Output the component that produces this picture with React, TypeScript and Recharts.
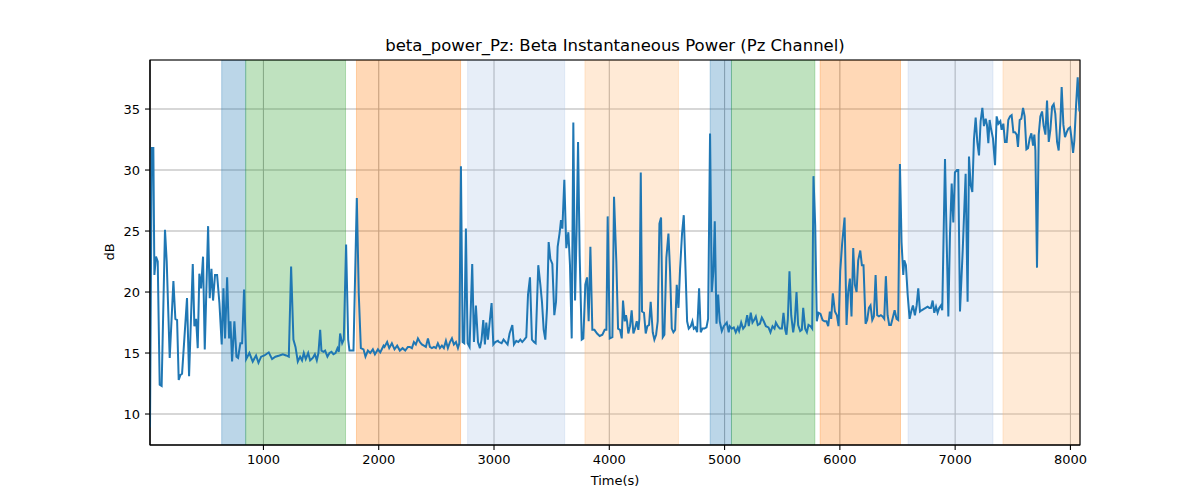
import React from "react"
import {
  LineChart,
  Line,
  XAxis,
  YAxis,
  CartesianGrid,
  ReferenceArea,
} from "recharts"

// Time axis (seconds) and beta power (dB)
const times = [
  16, 31, 45, 54, 68, 83, 100, 117, 146, 161, 187, 219, 236, 251, 265, 280, 294, 337, 355, 387,
  401, 416, 430, 444, 459, 476, 491, 520, 534, 549, 563, 580, 598, 618, 638, 653, 667, 685, 702, 714,
  728, 748, 766, 780, 800, 815, 832, 850, 878, 907, 936, 957, 980, 1009, 1038,
  1046, 1075, 1104, 1139, 1168, 1197, 1220, 1240, 1260, 1278, 1298, 1318, 1335, 1350, 1367, 1388, 1405,
  1428, 1446, 1463, 1477, 1492, 1503, 1521, 1535, 1555, 1573, 1590, 1607, 1625, 1642, 1654, 1665, 1683,
  1697, 1717, 1735, 1746, 1781, 1810, 1827, 1845, 1868, 1885, 1906, 1926, 1949, 1967, 1993, 2013, 2042,
  2050, 2073, 2091, 2114, 2137, 2160, 2183, 2207, 2230, 2253, 2270, 2288, 2305, 2322, 2340, 2357, 2374,
  2392, 2409, 2427, 2444, 2461, 2479, 2496, 2513, 2531, 2548, 2565, 2583, 2600, 2618, 2635, 2652, 2670,
  2687, 2699, 2713, 2728, 2742, 2756, 2771, 2788, 2811, 2826, 2843, 2861, 2878, 2892, 2907, 2921, 2933,
  2947, 2962, 2979, 2994, 3011, 3034,
  3043, 3066, 3083, 3101, 3118, 3135, 3159, 3173, 3193, 3211, 3228, 3245, 3263, 3280, 3295, 3312, 3329,
  3347, 3361, 3384, 3402, 3416, 3431, 3445, 3460, 3474, 3489, 3506, 3523, 3538, 3552, 3570, 3581, 3593,
  3610, 3627, 3645, 3659, 3674, 3688, 3703, 3717, 3729, 3743, 3761, 3775, 3792, 3807, 3821, 3836, 3853,
  3871, 3894, 3917, 3940, 3960, 3975, 3986, 4004, 4027, 4041,
  4061, 4076, 4093, 4108, 4119, 4134, 4145, 4154, 4165, 4180, 4194, 4209, 4223, 4238, 4252, 4261, 4273,
  4284, 4301, 4316, 4330, 4345, 4359, 4377, 4391, 4406, 4420, 4435, 4449, 4464, 4478, 4495, 4513, 4527,
  4542, 4556, 4571, 4585, 4600, 4614, 4631, 4646, 4660, 4675, 4689, 4707, 4721, 4733, 4747, 4762, 4779,
  4793, 4808, 4825, 4843, 4857, 4874, 4889, 4903, 4915, 4930, 4944, 4958, 4976, 4993, 5019, 5036,
  5045, 5063, 5080, 5097, 5115, 5126, 5144, 5161, 5178, 5196, 5210, 5227, 5242, 5256, 5271, 5288, 5306,
  5323, 5340, 5358, 5381, 5398, 5416, 5433, 5445, 5462, 5479, 5497, 5511, 5526, 5537, 5549, 5563, 5578,
  5595, 5609, 5624, 5638, 5656, 5670, 5682, 5699, 5714, 5728, 5745, 5760, 5771, 5786, 5800, 5815, 5832,
  5850, 5867, 5884, 5899, 5913, 5925, 5939, 5957, 5974, 5989, 6003, 6020,
  6041, 6058, 6072, 6087, 6101, 6116, 6130, 6145, 6159, 6177, 6191, 6205, 6223, 6237, 6252, 6266, 6281,
  6295, 6310, 6324, 6339, 6356, 6370, 6385, 6399, 6414, 6428, 6443, 6457, 6475, 6492, 6506, 6521, 6535,
  6550, 6559, 6573, 6588, 6605, 6619, 6634, 6651, 6666, 6680, 6695, 6709, 6726, 6744, 6761, 6776, 6790,
  6805, 6819, 6834, 6848, 6862, 6877, 6888, 6912, 6926, 6941, 6955, 6970, 6984, 6998, 7016, 7027,
  7042, 7066, 7091, 7108, 7120, 7134, 7149, 7163, 7178, 7192, 7207, 7221, 7236, 7250, 7265, 7276, 7288,
  7299, 7311, 7328, 7346, 7360, 7375, 7392, 7403, 7418, 7432, 7447, 7461, 7476, 7490, 7505, 7519, 7534,
  7545, 7560, 7574, 7589, 7603, 7618, 7632, 7647, 7661, 7676, 7687, 7696, 7710, 7725, 7739, 7754, 7768,
  7783, 7797, 7812, 7826, 7841, 7855, 7869, 7884, 7898, 7913, 7924, 7939, 7953, 7968, 7982, 7997, 8011,
  8023, 8034, 8049, 8063, 8078,
]

const power = [
  8.9, 31.8, 31.8, 21.4, 22.9, 22.5, 12.4, 12.3, 25.1, 22.5, 14.6, 20.9, 17.8, 17.7, 12.8, 13.2, 13.3, 19.5, 13.1, 22.3,
  17.2, 17.8, 15.4, 21.5, 20.3, 22.9, 15.3, 25.4, 19.5, 21.9, 19.3, 21.4, 21.4, 19.1, 15.7, 20.3, 16.2, 21.2, 16.2, 17.6,
  14.3, 17.6, 14.7, 14.6, 15.8, 15.8, 20.2, 14.5, 15.0, 14.3, 14.8, 14.2, 14.7, 14.8, 15.0,
  15.05, 14.5, 14.7, 14.8, 14.9, 14.8, 14.7, 22.1, 16.1, 15.5, 14.3, 14.7, 14.4, 15.0, 14.5, 15.0, 14.4,
  14.6, 14.9, 14.4, 15.0, 16.9, 15.2, 15.1, 15.2, 14.7, 15.0, 15.1, 14.9, 15.0, 15.4, 15.1, 16.6, 15.8,
  16.1, 23.9, 16.1, 15.2, 15.2, 27.7, 19.8, 15.4, 15.3, 14.7, 15.2, 15.0, 15.3, 14.9, 15.3, 15.05, 15.6,
  15.5, 15.9, 15.4, 15.8, 15.3, 15.6, 15.2, 15.4, 15.2, 15.5, 15.5, 15.4, 15.9, 15.7, 16.2, 15.9, 15.7,
  15.6, 15.5, 16.2, 15.5, 15.4, 15.5, 15.4, 15.8, 15.4, 15.6, 15.4, 16.0, 15.4, 15.9, 16.2, 15.7, 15.9,
  15.4, 15.8, 30.3, 15.9, 15.8, 25.2, 15.8, 15.5, 22.3, 15.9, 18.9, 15.9, 15.4, 16.1, 17.7, 15.7, 17.5,
  16.1, 17.5, 19.1, 15.7, 15.9, 16.0,
  15.9, 15.8, 16.1, 15.9, 15.7, 16.6, 17.3, 15.7, 16.0, 15.9, 16.1, 15.9, 16.1, 16.3, 19.8, 21.2, 16.1,
  15.9, 15.8, 22.2, 20.6, 19.2, 16.9, 16.1, 18.7, 24.1, 22.7, 22.3, 18.1, 19.2, 23.7, 24.9, 25.9, 25.2,
  29.2, 23.6, 24.9, 22.2, 16.2, 33.9, 19.3, 25.2, 32.3, 23.0, 16.1, 16.2, 20.6, 21.2, 17.6, 23.7, 16.9,
  16.9, 16.6, 16.4, 16.5, 16.9, 16.9, 26.2, 16.2, 16.3, 27.8,
  22.5, 17.0, 16.9, 16.2, 19.3, 17.6, 18.1, 17.6, 16.6, 17.2, 18.5, 16.6, 17.0, 17.6, 16.9, 17.8, 29.8,
  18.4, 18.3, 16.6, 17.2, 17.3, 19.2, 16.7, 16.1, 16.5, 17.6, 25.6, 26.1, 16.3, 16.5, 22.8, 24.8, 21.7,
  17.0, 16.7, 16.9, 20.6, 18.7, 21.9, 24.8, 26.3, 22.2, 17.6, 17.0, 17.2, 17.6, 17.0, 17.1, 16.7, 20.3,
  16.7, 17.0, 17.0, 17.1, 17.8, 33.0, 20.0, 21.7, 25.8, 17.4, 19.8, 17.6, 16.8, 17.2, 17.5, 16.7,
  17.2, 17.0, 17.1, 16.7, 17.1, 16.8, 17.5, 17.0, 17.2, 18.1, 17.2, 18.3, 17.5, 17.7, 18.0, 17.3, 17.4,
  17.9, 17.6, 17.2, 17.1, 16.7, 17.2, 17.0, 17.5, 17.2, 17.0, 17.0, 18.3, 16.9, 16.5, 17.8, 21.7, 18.1,
  16.7, 17.6, 20.0, 17.3, 16.8, 16.9, 18.7, 17.0, 16.7, 17.3, 17.2, 17.0, 29.5, 25.5, 17.6, 18.3, 18.2,
  17.7, 17.6, 17.6, 17.2, 18.4, 17.8, 19.9, 18.4, 18.1, 17.2, 21.7, 24.0,
  26.1, 17.3, 20.0, 21.1, 18.0, 23.6, 20.6, 20.0, 22.6, 23.4, 22.2, 22.2, 17.4, 17.7, 18.7, 18.9, 17.7,
  18.0, 21.4, 18.1, 18.0, 18.1, 18.0, 17.8, 21.3, 18.1, 17.3, 17.3, 17.8, 18.5, 17.8, 17.7, 30.5, 24.1,
  21.4, 22.6, 22.2, 19.8, 17.8, 18.4, 18.9, 18.1, 18.9, 20.3, 18.4, 18.5, 18.6, 18.7, 18.8, 18.7, 18.7,
  19.3, 18.3, 18.8, 18.3, 18.7, 18.9, 18.5, 30.9, 24.4, 18.0, 24.7, 28.9, 25.7, 29.8, 30.0, 30.0,
  18.4, 23.5, 29.7, 19.2, 31.1, 28.8, 28.2, 32.5, 34.3, 32.3, 31.2, 34.0, 35.1, 33.6, 34.2, 33.7, 32.2,
  34.1, 33.4, 32.6, 30.4, 34.4, 33.8, 34.0, 33.3, 33.8, 32.3, 32.3, 34.1, 34.4, 34.5, 33.1, 33.1, 32.9,
  31.9, 34.1, 34.2, 35.1, 34.4, 31.7, 31.8, 32.6, 33.0, 32.0, 32.9, 31.6, 22.0, 32.9, 34.4, 34.8, 33.6,
  32.9, 35.7, 32.3, 33.3, 35.2, 35.4, 34.6, 32.3, 31.6, 34.0, 36.8, 33.7, 32.7, 33.1, 33.4, 33.5, 32.5,
  31.4, 32.4, 35.3, 37.6, 34.8,
]

// Shaded condition windows (axvspan)
const spanStart = [638, 846, 1807, 2771, 3789, 4875, 5060, 5829, 6592, 7415]
const spanEnd = [846, 1712, 2710, 3613, 4600, 5060, 5783, 6526, 7328, 8083]
const spanColor = [
  "#1f77b4", "#2ca02c", "#ff7f0e", "#aec7e8", "#ffbb78",
  "#1f77b4", "#2ca02c", "#ff7f0e", "#aec7e8", "#ffbb78",
]

const xDomain = [16, 8083]
const yDomain = [7.46, 39.02]
const xTicks = [1000, 2000, 3000, 4000, 5000, 6000, 7000, 8000]
const yTicks = [10, 15, 20, 25, 30, 35]

const data = times.map((t, i) => ({ t, v: power[i] }))

const font = "'DejaVu Sans', sans-serif"
const tickStyle = { fill: "#000", fontSize: 13, fontFamily: font }

export default function App() {
  return (
    <div style={{ position: "absolute", left: 0, top: 0, width: 1200, height: 500, background: "#fff", fontFamily: font }}>
      <div style={{ position: "absolute", left: 150, top: 36, width: 930, textAlign: "center", fontSize: 16.5, lineHeight: "20px", color: "#000" }}>
        beta_power_Pz: Beta Instantaneous Power (Pz Channel)
      </div>
      <div style={{ position: "absolute", left: 150, top: 472, width: 930, textAlign: "center", fontSize: 13, lineHeight: "18px", color: "#000" }}>
        Time(s)
      </div>
      <div style={{ position: "absolute", left: 60, top: 243, width: 100, textAlign: "center", fontSize: 13, lineHeight: "18px", color: "#000", transform: "rotate(-90deg)" }}>
        dB
      </div>
      <LineChart
        width={1200}
        height={500}
        data={data}
        margin={{ top: 60, right: 120, bottom: 25, left: 100 }}
      >
        <XAxis
          dataKey="t"
          type="number"
          domain={xDomain}
          ticks={xTicks}
          allowDataOverflow
          height={30}
          tick={tickStyle}
          tickSize={5}
          tickMargin={5}
          axisLine={{ stroke: "#000", strokeWidth: 1.1 }}
          tickLine={{ stroke: "#000", strokeWidth: 1.1 }}
        />
        <YAxis
          type="number"
          domain={yDomain}
          ticks={yTicks}
          allowDataOverflow
          width={50}
          tick={tickStyle}
          tickSize={5}
          tickMargin={5}
          axisLine={{ stroke: "#000", strokeWidth: 1.1 }}
          tickLine={{ stroke: "#000", strokeWidth: 1.1 }}
        />
        {spanStart.map((s, i) => (
          <ReferenceArea
            key={i}
            x1={s}
            x2={spanEnd[i]}
            fill={spanColor[i]}
            fillOpacity={0.3}
            stroke={spanColor[i]}
            strokeOpacity={0.3}
            strokeWidth={1}
            ifOverflow="hidden"
          />
        ))}
        <CartesianGrid stroke="#b0b0b0" strokeWidth={1.1} />
        <Line
          dataKey="v"
          type="linear"
          stroke="#1f77b4"
          strokeWidth={2}
          dot={false}
          isAnimationActive={false}
        />
        {/* axes frame (matplotlib spines) */}
        <ReferenceArea
          x1={xDomain[0]}
          x2={xDomain[1]}
          y1={yDomain[0]}
          y2={yDomain[1]}
          fill="none"
          fillOpacity={0}
          stroke="#000"
          strokeWidth={1.1}
          ifOverflow="visible"
        />
      </LineChart>
    </div>
  )
}
